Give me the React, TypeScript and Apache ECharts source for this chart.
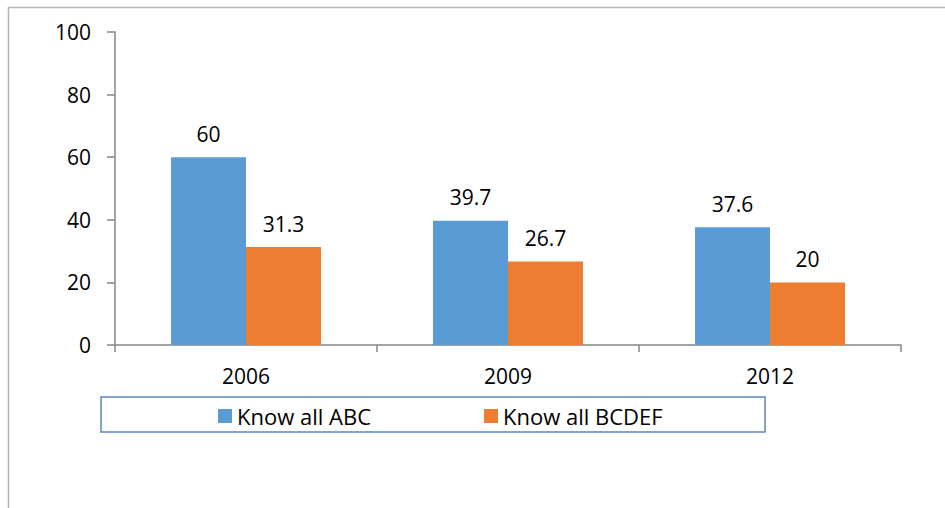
import React, { useEffect, useRef } from "react";
import * as echarts from "echarts";

const categories = ["2006", "2009", "2012"];
const seriesNames = ["Know all ABC", "Know all BCDEF"];
const abcValues = [60, 39.7, 37.6];
const bcdefValues = [31.3, 26.7, 20];
const yTicks = { min: 0, max: 100, interval: 20 };

const FONT = "'Open Sans', 'Liberation Sans', sans-serif";

export default function App() {
  const ref = useRef<HTMLDivElement>(null);
  useEffect(() => {
    if (!ref.current) return;
    const chart = echarts.init(ref.current, null, { renderer: "svg" });
    const labelStyle = {
      show: true,
      position: "top",
      distance: 13,
      color: "#000",
      fontSize: 21,
      fontFamily: FONT,
    };
    chart.setOption({
      animation: false,
      backgroundColor: "#fff",
      textStyle: { fontFamily: FONT },
      grid: { left: 115, right: 44, top: 32, bottom: 163 },
      graphic: [
        {
          type: "rect",
          shape: { x: 8.5, y: 7.5, width: 1000, height: 600 },
          style: { fill: "none", stroke: "#b4b4b4", lineWidth: 1.5 },
          silent: true,
          z: -10,
        },
        {
          type: "rect",
          shape: { x: 101, y: 397, width: 664, height: 35 },
          style: { fill: "#fff", stroke: "#5b87c5", lineWidth: 1.5 },
          silent: true,
          z: -5,
        },
      ],
      legend: {
        left: 213,
        top: 400,
        itemWidth: 14,
        itemHeight: 14,
        itemGap: 113,
        itemTextGap: 7,
        icon: "rect",
        textStyle: { fontSize: 22, color: "#000", fontFamily: FONT, padding: [0, 0, 0, 0] },
        data: seriesNames,
      },
      xAxis: {
        type: "category",
        data: categories,
        axisLine: { lineStyle: { color: "#868686", width: 1.5 } },
        axisTick: { show: true, length: 7, alignWithLabel: false, lineStyle: { color: "#868686", width: 1.5 } },
        axisLabel: { color: "#000", fontSize: 21, fontFamily: FONT, margin: 20 },
        splitLine: { show: false },
      },
      yAxis: {
        type: "value",
        min: yTicks.min,
        max: yTicks.max,
        interval: yTicks.interval,
        axisLine: { show: true, lineStyle: { color: "#868686", width: 1.5 } },
        axisTick: { show: true, length: 8, lineStyle: { color: "#868686", width: 1.5 } },
        axisLabel: { color: "#000", fontSize: 21, fontFamily: FONT, margin: 24 },
        splitLine: { show: false },
      },
      series: [
        {
          name: seriesNames[0],
          type: "bar",
          data: abcValues,
          itemStyle: { color: "#5b9bd5" },
          barWidth: 75,
          barGap: "0%",
          label: labelStyle,
        },
        {
          name: seriesNames[1],
          type: "bar",
          data: bcdefValues,
          itemStyle: { color: "#ed7d31" },
          barWidth: 75,
          barGap: "0%",
          label: labelStyle,
        },
      ],
    });
    return () => chart.dispose();
  }, []);
  return (
    <div
      ref={ref}
      style={{ position: "fixed", left: 0, top: 0, width: 945, height: 508 }}
    />
  );
}
